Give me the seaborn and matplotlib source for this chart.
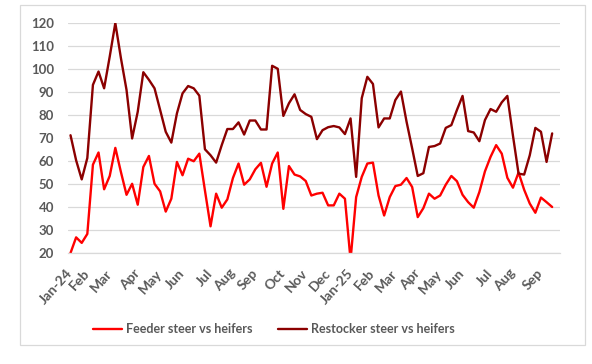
import numpy as np
import pandas as pd
import matplotlib
matplotlib.use("Agg")
import matplotlib.pyplot as plt
import seaborn as sns
from matplotlib.patches import Rectangle
from matplotlib.lines import Line2D

# ---- data (weekly, Jan-2024 .. Sep-2025) ----
feeder = [20, 26.8, 24.4, 28.3, 58.4, 63.7, 47.7, 53.5, 65.7, 55.2, 45.3, 50.1, 41.0, 57.4, 62.2, 50.1,
          46.8, 38.0, 43.6, 59.6, 53.8,
          61.0, 59.9, 63.2, 47.2, 31.6, 45.8, 39.7, 43.3, 52.6, 58.9, 49.7, 52.0, 56.4, 59.2, 48.8, 58.9,
          63.7, 39.2, 57.8, 54.1, 53.3, 51.3,
          45.0, 45.8, 46.2, 40.7, 40.7, 45.8, 43.6, 17.0, 44.3, 53.1, 58.9, 59.3, 45.0, 36.3, 44.3, 49.1,
          49.7, 52.6, 48.7, 35.6,
          39.5, 45.8, 43.6, 45.0, 49.7, 53.5, 51.2, 45.3, 42.1, 39.7, 46.5, 55.5, 61.8, 66.9, 63.2, 52.7,
          48.4, 55.0, 47.5, 41.5, 37.5, 44.1, 42.1, 40.0]
restocker = [71.2, 60.3, 52.0, 61.3, 93.1, 98.9, 91.6, 105.4, 120.0, 104.7, 90.9, 69.8, 81.4, 98.6, 95.3,
             91.6, 82.2, 72.7, 68.0, 80.7, 89.4,
             92.6, 91.6, 88.4, 65.1, 62.5, 59.3, 66.9, 73.9, 73.9, 76.8, 71.5, 77.6, 77.6, 73.7, 73.7, 101.4,
             100.1, 79.6, 85.1, 89.0, 82.2, 80.4,
             79.2, 69.5, 73.4, 74.7, 75.2, 74.6, 71.7, 78.5, 53.1, 87.3, 96.6, 93.5, 74.6, 78.5, 78.5, 86.5,
             90.2, 77.1, 65.5, 53.5, 54.7,
             66.1, 66.5, 67.6, 74.4, 75.6, 82.2, 88.3, 73.0, 72.4, 68.6, 77.8, 82.6, 81.4, 85.5, 88.3, 71.0,
             54.5, 54.1, 62.5, 74.4, 72.7, 59.6, 72.0]
month_labels = ["Jan-24", "Feb", "Mar", "Apr", "May", "Jun", "Jul", "Aug", "Sep", "Oct", "Nov", "Dec",
                "Jan-25", "Feb", "Mar", "Apr", "May", "Jun", "Jul", "Aug", "Sep"]
month_start_week = [0, 3, 7, 12, 16, 20, 25, 29, 33, 38, 42, 46, 50, 54, 58, 62, 66, 70, 75, 79, 84]
series_names = ["Feeder steer vs heifers", "Restocker steer vs heifers"]
y_ticks = [20, 30, 40, 50, 60, 70, 80, 90, 100, 110, 120]

weeks = np.arange(len(feeder))
df = pd.DataFrame({
    "week": np.concatenate([weeks, weeks]),
    "value": feeder + restocker,
    "series": [series_names[0]] * len(feeder) + [series_names[1]] * len(restocker),
})

sns.set_style("white")
plt.rcParams["font.family"] = ["Lato", "DejaVu Sans"]

W, H = 592, 364
fig = plt.figure(figsize=(W / 100, H / 100), dpi=100)
ax = fig.add_axes([68 / W, 1 - 253 / H, (560 - 68) / W, (253 - 23) / H])

red, dark = "#FF0000", "#8B0000"
sns.lineplot(data=df, x="week", y="value", hue="series",
             palette={series_names[0]: red, series_names[1]: dark},
             linewidth=1.7, ax=ax, legend=False)

ax.set_ylim(20, 120)
ax.set_xlim(-0.45, 87.4)
ax.set_yticks(y_ticks)
ax.set_yticklabels([str(v) for v in y_ticks], fontsize=9.5, fontweight="bold", color="#595959")
ax.yaxis.grid(True, color="#D9D9D9", linewidth=0.9)
ax.set_axisbelow(True)
for s in ["left", "right", "top"]:
    ax.spines[s].set_visible(False)
ax.spines["bottom"].set_color("#D9D9D9")
ax.spines["bottom"].set_linewidth(0.9)
ax.tick_params(axis="y", length=0, pad=10)
ax.tick_params(axis="x", length=0, pad=13)
ax.set_xticks(month_start_week)
ax.set_xticklabels(month_labels, rotation=48, ha="right", va="center", rotation_mode="anchor",
                   fontsize=10, fontweight="bold", color="#595959")
ax.set_xlabel("")
ax.set_ylabel("")

# legend
handles = [Line2D([], [], color=red, lw=1.7), Line2D([], [], color=dark, lw=1.7)]
leg = fig.legend(handles, series_names, loc="center left", bbox_to_anchor=(93 / W, 1 - 329 / H), ncol=2,
                 frameon=False, borderpad=0, borderaxespad=0, handlelength=2.3, handletextpad=0.3,
                 columnspacing=2.1, prop={"size": 9, "weight": "bold"})
for t in leg.get_texts():
    t.set_color("#595959")

# chart border
fig.patches.append(Rectangle((20 / W, 1 - 345 / H), (585 - 20) / W, (345 - 5) / H,
                             transform=fig.transFigure, fill=False, edgecolor="#D9D9D9", lw=0.9))

fig.savefig("out.png", dpi=100)
